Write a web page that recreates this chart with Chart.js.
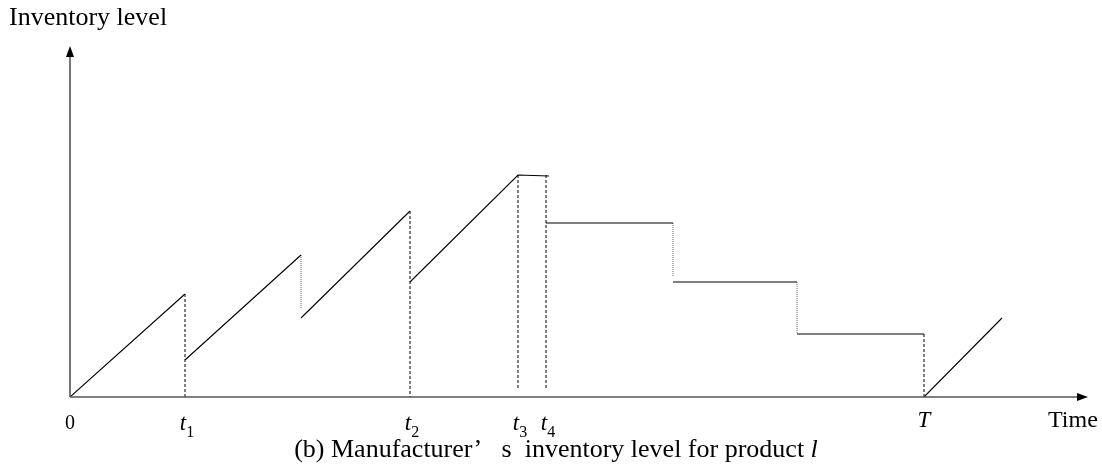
<!DOCTYPE html>
<html>
<head>
<meta charset="utf-8">
<script src="https://cdn.jsdelivr.net/npm/chart.js@4/dist/chart.umd.min.js"></script>
<style>
  body { margin: 0; background: #fff; }
  #wrap { width: 1102px; height: 465px; position: relative; }
</style>
</head>
<body>
<div id="wrap"><canvas id="invChart"></canvas></div>
<script>
// inventory path, null = break in the line
const levelX = [0, 115, null, 115, 231, null, 231, 340, null, 340, 448, 479, null, 476, 603, null, 603, 727, null, 727, 854, null, 854, 932];
const levelY = [0, 103, null, 37, 142, null, 79, 186, null, 115, 222, 221, null, 174, 174, null, 115, 115, null, 63, 63, null, 0, 79];

// dashed guides down to the time axis
const dashX = [115, 340, 448, 476, 854];
const dashTop = [103, 186, 222, 222, 63];
const dashBottom = [0, 0, 7, 7, 0];

// dotted drops
const dropX = [231, 603, 727];
const dropTop = [142, 174, 115];
const dropBottom = [89, 120, 63];

// time axis labels
const tickX = [0, 115, 340, 448, 476, 854];
const tickText = ["0", "t", "t", "t", "t", "T"];
const tickSub = ["", "1", "2", "3", "4", ""];

const X_MAX = 1018;
const Y_MAX = 351;
const FONT = "'Liberation Serif', 'Times New Roman', serif";

function toPoints(xs, ys) {
  return xs.map((x, i) => (x === null ? { x: null, y: null } : { x: x, y: ys[i] }));
}

function segments(xs, tops, bottoms) {
  const pts = [];
  xs.forEach((x, i) => {
    pts.push({ x: x, y: tops[i] }, { x: x, y: bottoms[i] }, { x: null, y: null });
  });
  return pts;
}

// axes, arrows and all the text
const decoPlugin = {
  id: "deco",
  afterDraw(chart) {
    const ctx = chart.ctx;
    const xs = chart.scales.x;
    const ys = chart.scales.y;
    const x0 = xs.getPixelForValue(0);
    const y0 = ys.getPixelForValue(0);
    const xEnd = xs.getPixelForValue(X_MAX);
    const yEnd = ys.getPixelForValue(Y_MAX);

    ctx.save();
    ctx.strokeStyle = "#555";
    ctx.fillStyle = "#000";
    ctx.lineWidth = 1.6;
    ctx.beginPath();
    ctx.moveTo(x0, y0);
    ctx.lineTo(xEnd - 8, y0);
    ctx.moveTo(x0, y0);
    ctx.lineTo(x0, yEnd + 8);
    ctx.stroke();

    // arrow heads
    ctx.beginPath();
    ctx.moveTo(xEnd, y0);
    ctx.lineTo(xEnd - 11, y0 - 4);
    ctx.lineTo(xEnd - 11, y0 + 4);
    ctx.closePath();
    ctx.fill();
    ctx.beginPath();
    ctx.moveTo(x0, yEnd);
    ctx.lineTo(x0 - 4, yEnd + 11);
    ctx.lineTo(x0 + 4, yEnd + 11);
    ctx.closePath();
    ctx.fill();

    ctx.textBaseline = "alphabetic";
    ctx.textAlign = "left";

    // tick labels
    tickX.forEach((v, i) => {
      const px = xs.getPixelForValue(v);
      const isDigit = tickText[i] === "0";
      const mainFont = (isDigit ? "20px " : "italic 23px ") + FONT;
      ctx.font = mainFont;
      const w = ctx.measureText(tickText[i]).width;
      ctx.font = "16px " + FONT;
      const sw = tickSub[i] ? ctx.measureText(tickSub[i]).width : 0;
      const left = px - (w + sw) / 2 + (tickSub[i] ? 2 : 0);
      ctx.font = mainFont;
      ctx.fillText(tickText[i], left, isDigit ? 429 : (tickSub[i] ? 430 : 427));
      if (tickSub[i]) {
        ctx.font = "16px " + FONT;
        ctx.fillText(tickSub[i], left + w, 437);
      }
    });

    ctx.font = "24px " + FONT;
    ctx.fillText("Time", 1048, 427);

    ctx.font = "26px " + FONT;
    ctx.fillText("Inventory level", 9, 25);

    // caption
    const cap = "(b) Manufacturer\u2019   s  inventory level for product ";
    ctx.font = "26px " + FONT;
    const cw = ctx.measureText(cap).width;
    ctx.font = "italic 26px " + FONT;
    const lw = ctx.measureText("l").width;
    const cx = 556 - (cw + lw) / 2;
    ctx.font = "26px " + FONT;
    ctx.fillText(cap, cx, 457);
    ctx.font = "italic 26px " + FONT;
    ctx.fillText("l", cx + cw, 457);
    ctx.restore();
  },
};

const chartData = {
  datasets: [
    {
      label: "Inventory",
      data: toPoints(levelX, levelY),
      borderColor: "#000",
      borderWidth: 1.1,
      spanGaps: false,
    },
    {
      label: "Guides",
      data: segments(dashX, dashTop, dashBottom),
      borderColor: "#000",
      borderWidth: 1,
      borderDash: [3, 2],
      spanGaps: false,
    },
    {
      label: "Drops",
      data: segments(dropX, dropTop, dropBottom),
      borderColor: "#666",
      borderWidth: 1,
      borderDash: [1, 1],
      spanGaps: false,
    },
  ],
};

new Chart(document.getElementById("invChart").getContext("2d"), {
  type: "scatter",
  data: chartData,
  options: {
    responsive: true,
    maintainAspectRatio: false,
    animation: false,
    showLine: true,
    layout: { padding: { left: 70, top: 46, right: 14, bottom: 68 } },
    elements: {
      point: { radius: 0, hoverRadius: 0 },
      line: { tension: 0, fill: false },
    },
    plugins: {
      legend: { display: false },
      tooltip: { enabled: false },
    },
    scales: {
      x: { type: "linear", min: 0, max: X_MAX, display: false },
      y: { type: "linear", min: 0, max: Y_MAX, display: false },
    },
  },
  plugins: [decoPlugin],
});
</script>
</body>
</html>
